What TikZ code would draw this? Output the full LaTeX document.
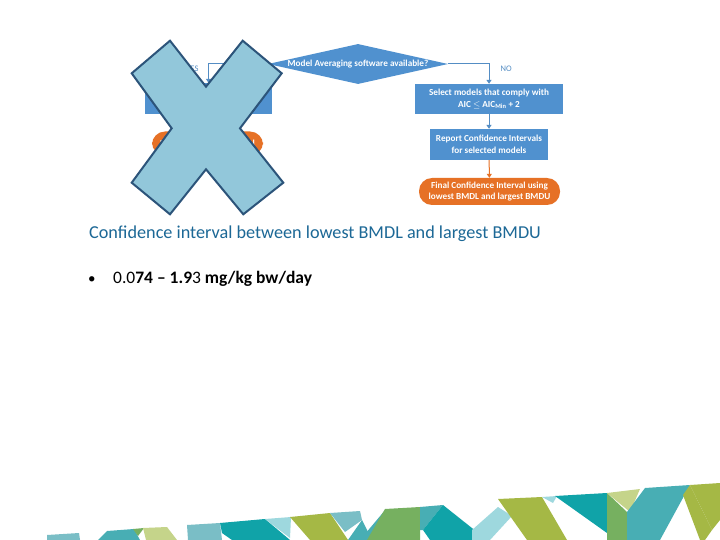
\documentclass[tikz,border=0pt]{standalone}
\usepackage{fontspec}
\setmainfont{Carlito}
\usepackage{tikz}
\usetikzlibrary{arrows.meta,shapes.geometric,positioning}

\definecolor{flowblue}{RGB}{80,145,207}
\definecolor{flowline}{RGB}{84,141,196}
\definecolor{floworange}{RGB}{230,113,38}
\definecolor{crossfill}{RGB}{146,199,218}
\definecolor{crossedge}{RGB}{44,84,122}
\definecolor{titleblue}{RGB}{28,104,150}
\definecolor{bandaqua}{RGB}{158,216,222}
\definecolor{bandlteal}{RGB}{122,190,198}
\definecolor{bandteal}{RGB}{72,174,180}
\definecolor{banddteal}{RGB}{16,163,168}
\definecolor{bandgreen}{RGB}{118,176,96}
\definecolor{bandlime}{RGB}{165,184,69}
\definecolor{bandpale}{RGB}{197,212,138}

\begin{document}
\begin{tikzpicture}[x=1pt,y=-1pt,
    flowbox/.style={fill=flowblue,text=white,font=\fontsize{9.2}{11.5}\selectfont\bfseries,align=center,inner sep=1pt},
    flowend/.style={fill=floworange,text=white,font=\fontsize{9.2}{11.5}\selectfont\bfseries,align=center,rounded corners=13pt,inner sep=1pt},
    flowarrow/.style={draw=flowline,line width=1pt,-{Triangle[width=5pt,length=4pt]}},
    lbl/.style={text=flowline,font=\fontsize{8.5}{10}\selectfont}]
    \useasboundingbox (0,0) rectangle (720,540);
    \fill[white] (0,0) rectangle (720,540);

    \node[diamond,fill=flowblue,minimum width=180pt,minimum height=40pt,aspect=4.5,inner sep=0pt,
        text=white,font=\fontsize{9.2}{11}\selectfont\bfseries] (avail) at (358,64) {Model Averaging software available?};
    \node[flowbox,minimum width=127pt,minimum height=31pt] (avgbox) at (208.5,98.5) {};
    \node[flowend,minimum width=111pt,minimum height=24pt] (avgci) at (207.5,143.5) {Final Confidence Interval};
    \node[flowbox,minimum width=148pt,minimum height=30pt] (selbox) at (489,99) {Select models that comply with\\AIC $\le$ AIC\textsubscript{Min} + 2};
    \node[flowbox,minimum width=118pt,minimum height=31pt] (repbox) at (489,144.5) {Report Confidence Intervals\\for selected models};
    \node[flowend,minimum width=141pt,minimum height=27pt] (finalci) at (489.5,191.5) {Final Confidence Interval using\\lowest BMDL and largest BMDU};

    \draw[flowarrow] (avail.west) -| (avgbox.north);
    \draw[flowarrow] (avail.east) -| (selbox.north);
    \draw[flowarrow] (selbox) -- (repbox);
    \draw[flowarrow,draw=floworange] (repbox) -- (finalci);
    \draw[flowarrow] (avgbox) -- (avgci);
    \node[lbl,anchor=east] (yes) at (202,69) {YES};
    \node[lbl,anchor=west] (no) at (497,69) {NO};

    \draw[fill=crossfill,draw=crossedge,line width=2pt,line join=miter]
        (131.7,73.3) -- (170,40.7) -- (206,86.7) -- (242.7,40.7) -- (281.7,73.3) -- (240,128.3)
        -- (283.3,182.7) -- (243.3,214.3) -- (206,169.3) -- (170,214.3) -- (131.7,182.7) -- (171.7,128.3) -- cycle;

    \node[anchor=base west,text=titleblue,font=\fontsize{18.2}{21}\selectfont,inner sep=0pt] (title) at (89,238)
        {Confidence interval between lowest BMDL and largest BMDU};
    \node[anchor=base west,font=\fontsize{15}{18}\selectfont,inner sep=0pt] (dot) at (88,283) {•};
    \node[anchor=base west,font=\fontsize{17.5}{21}\selectfont,inner sep=0pt] (value) at (113,283)
        {0.0\textbf{74 – 1.9}3 \textbf{mg/kg bw/day}};

    \foreach \c/\p in {
        bandlteal/{(47,535) -- (79,533) -- (80,540) -- (47,540)},
        bandteal/{(98,540) -- (107,531) -- (134,529) -- (140,540)},
        bandgreen/{(133,529) -- (144,528) -- (138,536)},
        bandpale/{(143,528) -- (167,527) -- (177,540) -- (146,540)},
        bandlteal/{(187,525) -- (220,523) -- (222,540) -- (188,540)},
        banddteal/{(220,523) -- (265,519) -- (290,540) -- (232,540) -- (222,533)},
        bandaqua/{(265,519) -- (291,517) -- (290,538)},
        bandlime/{(290,517) -- (330,513) -- (348,540) -- (310,540)},
        bandlteal/{(330,513) -- (360,511) -- (362,520) -- (345,532)},
        bandteal/{(348,540) -- (362,520) -- (372,540)},
        bandteal/{(360,540) -- (386,509) -- (372,540)},
        bandgreen/{(385,509) -- (420,507) -- (420,540) -- (367,540)},
        bandteal/{(420,507) -- (443,505) -- (423,530) -- (420,530)},
        banddteal/{(443,505) -- (487,540) -- (430,540) -- (423,530)},
        bandaqua/{(472,530) -- (498,507) -- (512,516) -- (490,540) -- (472,540)},
        bandlime/{(498,499) -- (542,497) -- (567,540) -- (527,540)},
        bandaqua/{(542,497) -- (557,496) -- (553,503)},
        banddteal/{(555,496) -- (607,493) -- (607,533)},
        bandgreen/{(607,493) -- (627,512) -- (627,540) -- (607,540)},
        bandpale/{(607,493) -- (640,489) -- (630,512)},
        bandteal/{(645,488) -- (690,485) -- (660,540) -- (627,540) -- (627,512)},
        bandlime/{(690,485) -- (720,483) -- (720,520) -- (712,530)},
        bandlime/{(683,495) -- (690,485) -- (712,530) -- (705,540) -- (700,540)}
    }
        \fill[\c] \p -- cycle;
\end{tikzpicture}
\end{document}
